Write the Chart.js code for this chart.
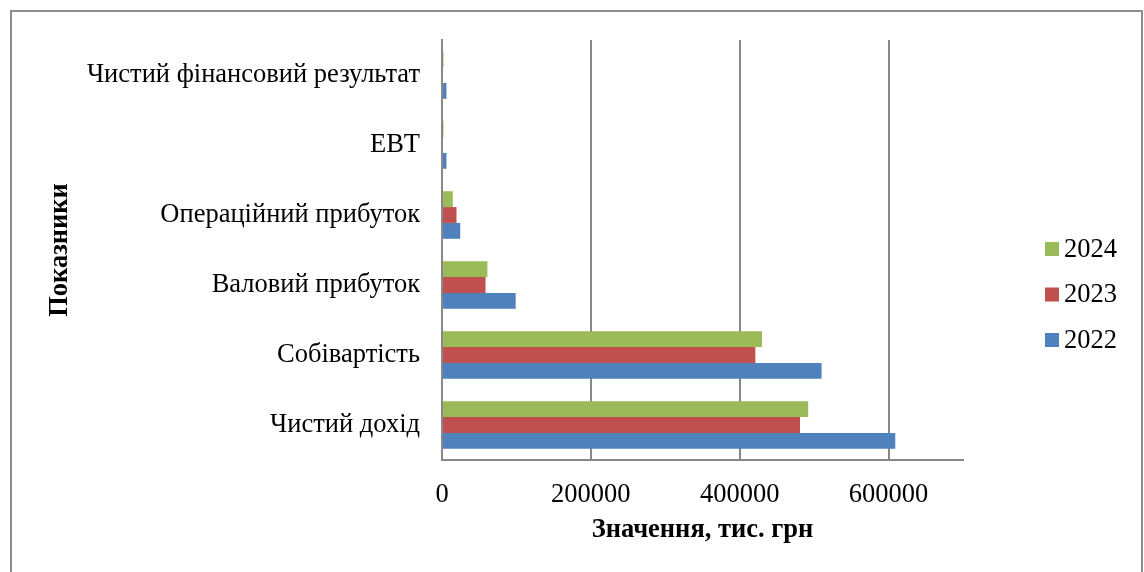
<!DOCTYPE html>
<html>
<head>
<meta charset="utf-8">
<script src="https://cdn.jsdelivr.net/npm/chart.js@4.4.1/dist/chart.umd.min.js"></script>
<style>
  html, body { margin: 0; padding: 0; background: #ffffff; }
  #wrap { width: 1144px; height: 572px; position: relative; }
</style>
</head>
<body>
<div id="wrap"><canvas id="c" width="1144" height="572"></canvas></div>
<script>
const categories = ['Чистий фінансовий результат', 'EBT', 'Операційний прибуток', 'Валовий прибуток', 'Собівартість', 'Чистий дохід'];
const values2024 = [2000, 2000, 14500, 61000, 430000, 492000];
const values2023 = [0, 0, 19500, 58500, 421000, 481000];
const values2022 = [6000, 6000, 24500, 99000, 510000, 609000];
const seriesNames = ['2024', '2023', '2022'];
const xTicks = [0, 200000, 400000, 600000];
const xMax = 700000;

const colors = ['#9BBB59', '#C0504D', '#4F81BD'];
const FONT = "'Liberation Serif', 'Times New Roman', serif";
const FS = 26.5;

const framePlugin = {
  id: 'frame',
  beforeDraw(chart) {
    const ctx = chart.ctx;
    ctx.save();
    ctx.fillStyle = '#ffffff';
    ctx.fillRect(0, 0, chart.width, chart.height);
    ctx.strokeStyle = '#8c8c8c';
    ctx.lineWidth = 2;
    ctx.strokeRect(11, 11, 1131, 620);
    ctx.restore();
  }
};

const legendPlugin = {
  id: 'customLegend',
  afterDraw(chart) {
    const ctx = chart.ctx;
    ctx.save();
    ctx.font = FS + 'px ' + FONT;
    ctx.textBaseline = 'middle';
    ctx.textAlign = 'left';
    chart.data.datasets.forEach((ds, i) => {
      const cy = 249 + i * 45.5;
      ctx.fillStyle = ds.backgroundColor;
      ctx.fillRect(1045, cy - 7, 14, 14);
      ctx.fillStyle = '#000000';
      ctx.fillText(ds.label, 1064, cy + 1);
    });
    ctx.restore();
  }
};

new Chart(document.getElementById('c'), {
  type: 'bar',
  data: {
    labels: categories,
    datasets: [
      { label: seriesNames[0], data: values2024, backgroundColor: colors[0] },
      { label: seriesNames[1], data: values2023, backgroundColor: colors[1] },
      { label: seriesNames[2], data: values2022, backgroundColor: colors[2] }
    ]
  },
  options: {
    indexAxis: 'y',
    responsive: false,
    animation: false,
    devicePixelRatio: 1,
    categoryPercentage: 0.68,
    barPercentage: 1.0,
    layout: { padding: { top: 40, right: 181, bottom: 0, left: 0 } },
    plugins: {
      legend: { display: false },
      tooltip: { enabled: false }
    },
    scales: {
      x: {
        type: 'linear',
        min: 0,
        max: xMax,
        afterBuildTicks(scale) {
          scale.ticks = xTicks.map(v => ({ value: v }));
        },
        afterFit(scale) { scale.height = 112; },
        grid: { display: true, color: '#888888', lineWidth: 2, drawTicks: false },
        border: { display: true, color: '#888888', width: 2 },
        ticks: {
          padding: 19,
          color: '#000000',
          font: { family: FONT, size: FS },
          maxRotation: 0,
          callback: v => String(v)
        },
        title: {
          display: true,
          text: 'Значення, тис. грн',
          color: '#000000',
          font: { family: FONT, size: FS, weight: 'bold' },
          padding: { top: 0, bottom: 26 }
        }
      },
      y: {
        afterFit(scale) { scale.width = 442; },
        grid: { display: false, drawTicks: false },
        border: { display: true, color: '#888888', width: 2 },
        ticks: {
          padding: 22,
          color: '#000000',
          font: { family: FONT, size: FS }
        },
        title: {
          display: true,
          text: 'Показники',
          color: '#000000',
          font: { family: FONT, size: FS, weight: 'bold' },
          padding: { top: 44, bottom: 0 }
        }
      }
    }
  },
  plugins: [framePlugin, legendPlugin]
});
</script>
</body>
</html>
